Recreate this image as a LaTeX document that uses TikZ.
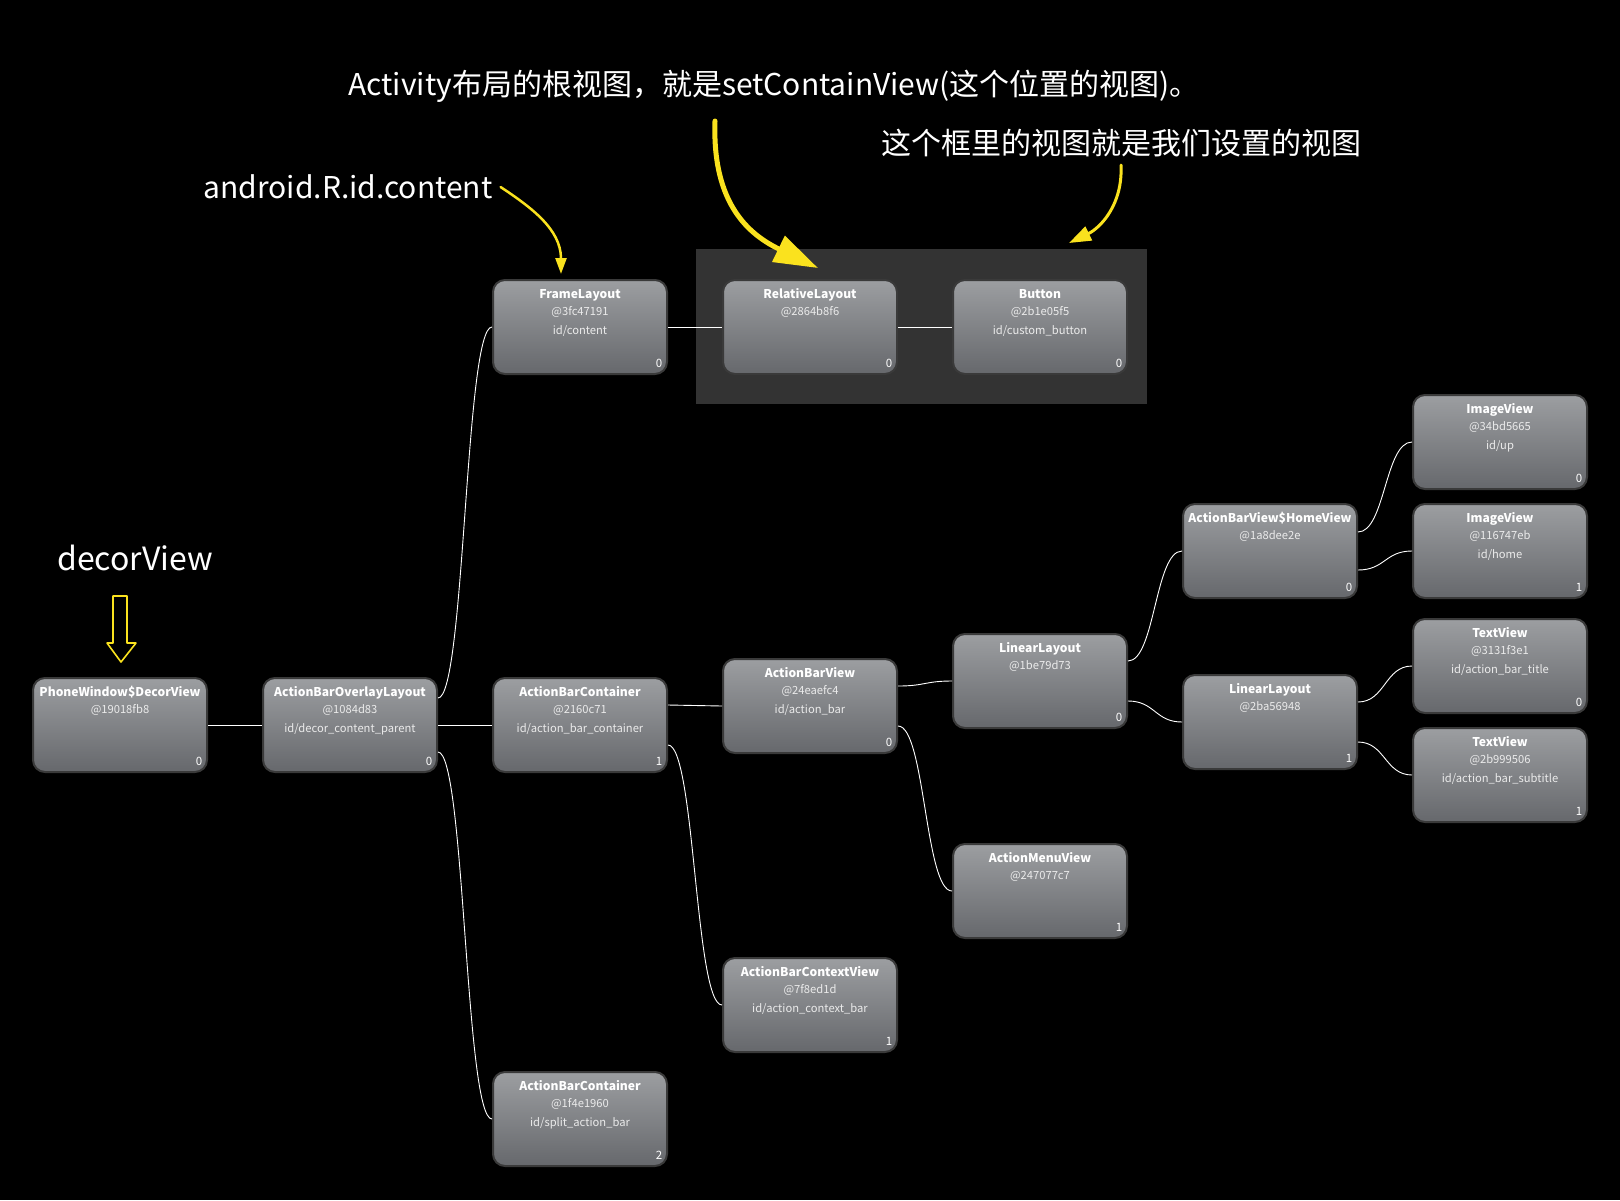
\documentclass[tikz,border=0pt]{standalone}
\usepackage{fontspec}
\setmainfont{Noto Sans CJK SC}
\usetikzlibrary{arrows.meta}

\definecolor{boxtop}{RGB}{156,158,161}
\definecolor{boxbot}{RGB}{102,104,108}
\definecolor{boxline}{RGB}{58,58,58}
\definecolor{frameback}{RGB}{51,51,51}
\definecolor{marker}{RGB}{250,226,30}

\tikzset{
  viewbox/.style={draw=boxline, line width=2pt, top color=boxtop, bottom color=boxbot,
    rounded corners=12pt, minimum width=174pt, minimum height=94pt, inner sep=0pt},
  classname/.style={text=white, font=\bfseries\fontsize{12.1}{14}\selectfont,
    inner sep=0pt, text height=9pt, text depth=3pt},
  subline/.style={text=white!92!black, font=\fontsize{11.2}{12}\selectfont,
    inner sep=0pt, text height=8pt, text depth=2.5pt},
  idx/.style={text=white, font=\fontsize{11.5}{12}\selectfont, inner sep=0pt},
  wire/.style={draw=white, line width=0.9pt},
  note/.style={text=white, font=\fontsize{30}{34}\selectfont, inner sep=0pt},
  hint/.style={draw=marker, line cap=round}
}

% name, x, y, class, address, id, index
\newcommand{\viewnode}[7]{%
  \node[viewbox] (#1) at (#2,#3) {};
  \node[classname] (#1-c) at ([yshift=-16pt]#1.north) {#4};
  \node[subline] (#1-a) at ([yshift=-34pt]#1.north) {#5};
  \node[subline] (#1-i) at ([yshift=-53pt]#1.north) {#6};
  \node[idx] (#1-n) at ([xshift=-9pt,yshift=12pt]#1.south east) {#7};
}

\begin{document}
\begin{tikzpicture}[x=1pt,y=-1pt]
  \fill[black] (0,0) rectangle (1620,1200);
  \useasboundingbox (0,0) rectangle (1620,1200);

  % frame round the views we set
  \fill[frameback] (696,249) rectangle (1147,404);

  % the views
  \viewnode{decor}{120}{725}{PhoneWindow\$DecorView}{@19018fb8}{}{0}
  \viewnode{overlay}{350}{725}{ActionBarOverlayLayout}{@1084d83}{id/decor\_content\_parent}{0}
  \viewnode{content}{580}{327}{FrameLayout}{@3fc47191}{id/content}{0}
  \viewnode{relative}{810}{327}{RelativeLayout}{@2864b8f6}{}{0}
  \viewnode{button}{1040}{327}{Button}{@2b1e05f5}{id/custom\_button}{0}
  \viewnode{abcontainer}{580}{725}{ActionBarContainer}{@2160c71}{id/action\_bar\_container}{1}
  \viewnode{splitbar}{580}{1119}{ActionBarContainer}{@1f4e1960}{id/split\_action\_bar}{2}
  \viewnode{abview}{810}{706}{ActionBarView}{@24eaefc4}{id/action\_bar}{0}
  \viewnode{contextbar}{810}{1005}{ActionBarContextView}{@7f8ed1d}{id/action\_context\_bar}{1}
  \viewnode{linearA}{1040}{681}{LinearLayout}{@1be79d73}{}{0}
  \viewnode{menuview}{1040}{891}{ActionMenuView}{@247077c7}{}{1}
  \viewnode{homeview}{1270}{551}{ActionBarView\$HomeView}{@1a8dee2e}{}{0}
  \viewnode{linearB}{1270}{722}{LinearLayout}{@2ba56948}{}{1}
  \viewnode{imgup}{1500}{442}{ImageView}{@34bd5665}{id/up}{0}
  \viewnode{imghome}{1500}{551}{ImageView}{@116747eb}{id/home}{1}
  \viewnode{title}{1500}{666}{TextView}{@3131f3e1}{id/action\_bar\_title}{0}
  \viewnode{subtitle}{1500}{775}{TextView}{@2b999506}{id/action\_bar\_subtitle}{1}

  % connectors
  \draw[wire] (decor.east) -- (overlay.west);
  \draw[wire] ([yshift=27pt]overlay.east) .. controls +(27,0) and +(-27,0) .. (content.west);
  \draw[wire] (overlay.east) -- (abcontainer.west);
  \draw[wire] ([yshift=-27pt]overlay.east) .. controls +(27,0) and +(-27,0) .. (splitbar.west);
  \draw[wire] (content.east) -- (relative.west);
  \draw[wire] (relative.east) -- (button.west);
  \draw[wire] ([yshift=20pt]abcontainer.east) .. controls +(27,0) and +(-27,0) .. (abview.west);
  \draw[wire] ([yshift=-20pt]abcontainer.east) .. controls +(27,0) and +(-27,0) .. (contextbar.west);
  \draw[wire] ([yshift=20pt]abview.east) .. controls +(27,0) and +(-27,0) .. (linearA.west);
  \draw[wire] ([yshift=-20pt]abview.east) .. controls +(27,0) and +(-27,0) .. (menuview.west);
  \draw[wire] ([yshift=20pt]linearA.east) .. controls +(27,0) and +(-27,0) .. (homeview.west);
  \draw[wire] ([yshift=-20pt]linearA.east) .. controls +(27,0) and +(-27,0) .. (linearB.west);
  \draw[wire] ([yshift=19pt]homeview.east) .. controls +(27,0) and +(-27,0) .. (imgup.west);
  \draw[wire] ([yshift=-19pt]homeview.east) .. controls +(27,0) and +(-27,0) .. (imghome.west);
  \draw[wire] ([yshift=20pt]linearB.east) .. controls +(27,0) and +(-27,0) .. (title.west);
  \draw[wire] ([yshift=-20pt]linearB.east) .. controls +(27,0) and +(-27,0) .. (subtitle.west);

  % notes
  \node[note] (rootnote) at (774,86) {Activity布局的根视图，就是setContainView(这个位置的视图)。};
  \node[note] (framenote) at (1121,143) {这个框里的视图就是我们设置的视图};
  \node[note] (contentnote) at (348,187) {android.R.id.content};
  \node[note, font=\fontsize{32}{36}\selectfont] (decornote) at (135,558) {decorView};

  % yellow pointers
  \coordinate (contenttip) at (561,274);
  \coordinate (roottip) at (818,268);
  \coordinate (frametip) at (1069,243);
  \draw[hint, line width=2.5pt, -{Triangle[length=16pt,width=11pt]}]
    ([xshift=8pt]contentnote.east) .. controls +(30,20) and +(0,-45) .. (contenttip);
  \draw[hint, line width=5pt, -{Triangle[length=44pt,width=28pt]}]
    (715,121) .. controls (712,205) and (750,235) .. (roottip);
  \draw[hint, line width=3pt, -{Triangle[length=22pt,width=15pt]}]
    (1121,165) .. controls (1123,205) and (1100,228) .. (frametip);
  \draw[hint, line width=1.6pt, line join=round]
    (113,596) -- (127,596) -- (127,643) -- (136,643) -- (121,662) -- (107,643) -- (113,643) -- cycle;
\end{tikzpicture}
\end{document}
